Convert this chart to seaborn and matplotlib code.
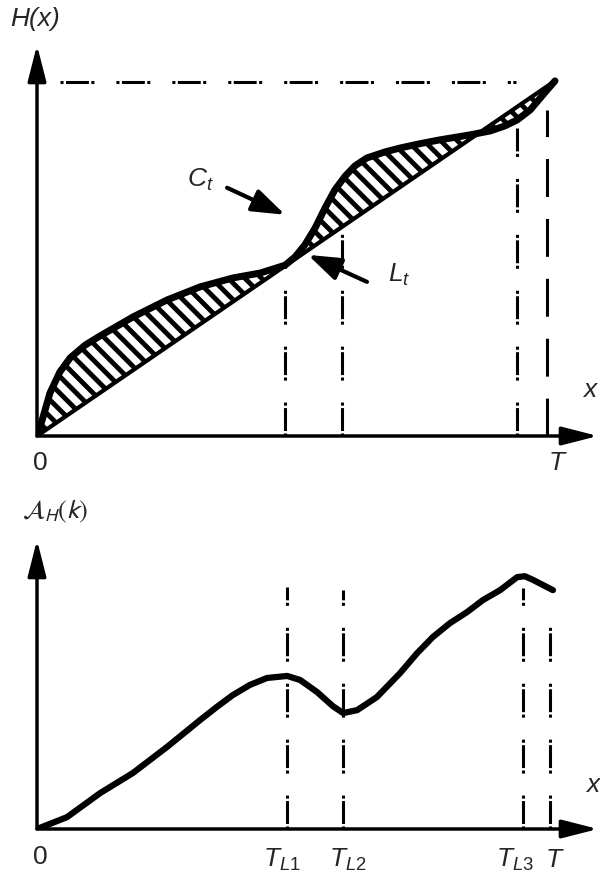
import numpy as np
import pandas as pd
import matplotlib
matplotlib.use("Agg")
import matplotlib.pyplot as plt
import seaborn as sns

# ----------------------------------------------------------
# DATA (arbitrary units)
# ----------------------------------------------------------
# upper panel: cumulative curve C_t and the straight line L_t
top_x = [0, 1.0, 2.5, 4.4, 6.4, 9.3, 12.2, 18.5, 25.1, 31.5, 37.8, 43.1,
         47.9, 49.8, 51.7, 53.7, 55.6, 57.5, 59.5, 61.4, 63.7, 67.2, 70.1,
         73.9, 77.8, 83.6, 87.5, 90.3, 92.7, 95.2, 97.7, 100]
top_c = [0, 4.5, 12.1, 18.0, 22.0, 25.6, 28.2, 33.5, 38.3, 42.0, 44.5, 45.9,
         48.1, 50.4, 53.8, 58.6, 64.2, 69.3, 73.2, 76.1, 78.3, 80.0, 81.1,
         82.3, 83.4, 84.8, 85.9, 87.3, 89.0, 91.8, 96.1, 100]
line_x = [0, 100]
line_y = [0, 100]

# vertical markers in the upper panel (x position, top of the marker)
top_mark_x = [47.9, 58.9, 92.7]
top_mark_top = [49.0, 60.8, 87.0]
top_T_x = 98.5
top_T_top = 91.8
hline_y = 99.7
hline_x = [4.4, 92.5]

# lower panel: area function A_H(k)
low_x = [0, 5.8, 12.2, 18.5, 25.1, 31.5, 34.7, 37.8, 41.1, 44.4, 48.3, 50.8,
         54.1, 57.1, 59.1, 61.8, 65.6, 70.1, 73.4, 76.4, 79.7, 83.0, 86.1,
         89.4, 92.7, 94.2, 95.8, 99.6]
low_y = [0, 4.1, 12.4, 19.3, 28.3, 37.6, 42.1, 46.2, 49.7, 52.1, 52.8, 51.4,
         47.2, 42.4, 40.0, 41.0, 45.5, 53.8, 60.7, 66.2, 71.0, 74.8, 79.0,
         82.4, 86.9, 87.2, 85.9, 82.4]
low_mark_x = [48.3, 59.1, 93.8, 99.0]
low_mark_top = [83.4, 82.4, 83.1, 74.5]
low_labels = ["$T_{L1}$", "$T_{L2}$", "$T_{L3}$", "$T$"]

# ----------------------------------------------------------
# STYLE
# ----------------------------------------------------------
sns.set_style("white")
plt.rcParams["font.family"] = ["Liberation Sans", "DejaVu Sans"]
plt.rcParams["mathtext.fontset"] = "custom"
plt.rcParams["mathtext.it"] = "Liberation Sans:italic"
plt.rcParams["mathtext.rm"] = "Liberation Sans"
plt.rcParams["hatch.linewidth"] = 3.5
plt.rcParams["lines.solid_joinstyle"] = "round"
plt.rcParams["lines.solid_capstyle"] = "round"

W, H = 600, 876
fig = plt.figure(figsize=(6, 8.76), dpi=100)
fig.patch.set_facecolor("white")

def fx(px):
    return px / W

def fy(py):
    return 1 - py / H

dashdot = (0, (1.0, 0.8, 7.5, 0.8, 1.0, 7.2))
axis_arrow = dict(arrowstyle="-|>,head_length=1.1,head_width=0.28",
                  lw=2.5, color="black", shrinkA=0, shrinkB=0,
                  mutation_scale=20)
pointer = dict(arrowstyle="-|>,head_length=1.0,head_width=0.35",
               lw=3, color="black", shrinkA=0, shrinkB=0, mutation_scale=20)
fs = 19

def draw_axes(ax):
    ax.axis("off")
    ax.annotate("", xy=(1, 0), xytext=(0, 0), xycoords="axes fraction",
                textcoords="axes fraction", arrowprops=axis_arrow)
    ax.annotate("", xy=(0, 1), xytext=(0, 0), xycoords="axes fraction",
                textcoords="axes fraction", arrowprops=axis_arrow)

# ----------------------------------------------------------
# UPPER PANEL
# ----------------------------------------------------------
ax1 = fig.add_axes([fx(37), fy(436), fx(561), 391 / H])
ax1.set_xlim(0, 108.3)
ax1.set_ylim(0, 110.1)

ax1.fill_between(top_x, top_x, top_c, facecolor="white", edgecolor="black",
                 hatch="\\\\", linewidth=0)
sns.lineplot(x=line_x, y=line_y, ax=ax1, color="black", linewidth=3,
             estimator=None)
sns.lineplot(x=top_x, y=top_c, ax=ax1, color="black", linewidth=5,
             estimator=None)

ax1.vlines(top_mark_x, 0, top_mark_top, colors="black", linewidth=2.2,
           linestyles=[dashdot])
ax1.vlines([top_T_x], 0, [top_T_top], colors="black", linewidth=2.2,
           linestyles=[(0, (12.4, 7.2))])
ax1.hlines([hline_y], hline_x[0], hline_x[1], colors="black", linewidth=2.2,
           linestyles=[dashdot])
draw_axes(ax1)

ax1.annotate("", xy=(47.9, 62.3), xytext=(36.7, 69.9), arrowprops=pointer)
ax1.annotate("", xy=(52.3, 51.0), xytext=(63.7, 43.4), arrowprops=pointer)
ax1.text(29.0, 72.1, "$C_t$", fontsize=fs, ha="left", va="center")
ax1.text(67.8, 45.4, "$L_t$", fontsize=fs, ha="left", va="center")

fig.text(fx(10), fy(19), "H(x)", fontsize=fs, style="italic",
         ha="left", va="center")
fig.text(fx(40), fy(463), "0", fontsize=fs, ha="center", va="center")
fig.text(fx(557), fy(463), "T", fontsize=fs, style="italic",
         ha="center", va="center")
fig.text(fx(590), fy(390), "x", fontsize=fs, style="italic",
         ha="center", va="center")

# ----------------------------------------------------------
# LOWER PANEL
# ----------------------------------------------------------
ax2 = fig.add_axes([fx(37), fy(829), fx(561), 289 / H])
ax2.set_xlim(0, 108.3)
ax2.set_ylim(0, 99.7)

sns.lineplot(x=low_x, y=low_y, ax=ax2, color="black", linewidth=4.5,
             estimator=None)
ax2.vlines(low_mark_x, 0, low_mark_top, colors="black", linewidth=2.2,
           linestyles=[dashdot])
draw_axes(ax2)

label_px = [282, 348, 515, 555]
for px, lab in zip(label_px, low_labels):
    fig.text(fx(px), fy(860), lab, fontsize=fs, ha="center", va="center")
fig.text(fx(40), fy(857), "0", fontsize=fs, ha="center", va="center")
fig.text(fx(599), fy(785), "x", fontsize=fs, style="italic",
         ha="right", va="center")

fig.text(fx(22), fy(511), r"$\mathcal{A}_H(k)$", fontsize=fs,
         math_fontfamily="stixsans", ha="left", va="center")

fig.savefig("out.png", dpi=100, facecolor="white")
